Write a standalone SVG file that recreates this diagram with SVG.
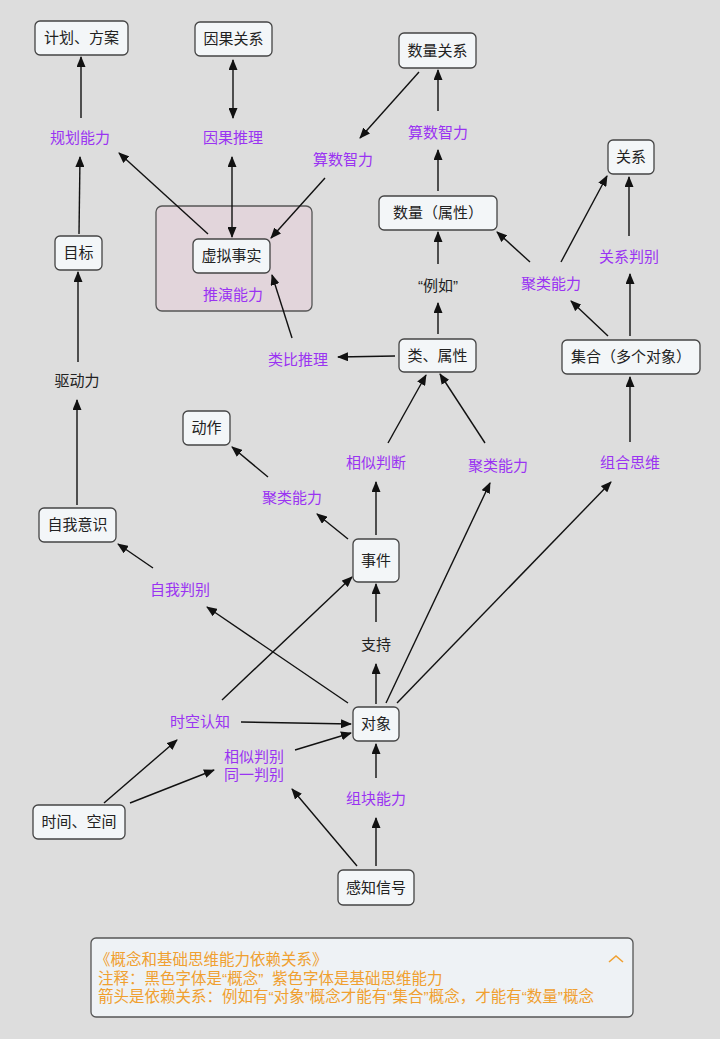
<svg xmlns="http://www.w3.org/2000/svg" width="720" height="1039" viewBox="0 0 720 1039">
<defs>
<marker id="ah" markerUnits="userSpaceOnUse" markerWidth="11" markerHeight="9" refX="10" refY="4.5" orient="auto-start-reverse" viewBox="0 0 11 9">
<path d="M0,0 L11,4.5 L0,9 z" fill="#111"/>
</marker>
<style>
.n rect{fill:#f3f6f8;stroke:#444;stroke-width:1.3}
text{font-family:"Liberation Sans","Noto Sans CJK SC",sans-serif;font-size:15px;text-anchor:middle}
.k{fill:#222}
.p{fill:#9a33f2}
.o{fill:#f0a030;text-anchor:start;font-size:15.5px}
#connectors line{stroke:#111;stroke-width:1.4;fill:none;marker-end:url(#ah)}
#connectors line.d{marker-start:url(#ah)}
</style>
</defs>
<rect width="720" height="1039" fill="#dddddd"/>

<g id="group-tuiyan">
<rect x="156" y="206" width="156" height="105" rx="6" fill="#e2d5db" stroke="#555" stroke-width="1.3"/>
<text class="p" x="233" y="300">推演能力</text>
</g>

<g id="connectors">
<line x1="81" y1="118" x2="81" y2="57"/>
<line x1="79" y1="234" x2="80" y2="157"/>
<line x1="78" y1="362" x2="78" y2="272"/>
<line x1="77" y1="505" x2="77" y2="400"/>
<line class="d" x1="233" y1="60" x2="233" y2="118"/>
<line class="d" x1="232" y1="157" x2="232" y2="237"/>
<line x1="208" y1="234" x2="119" y2="153"/>
<line x1="325" y1="178" x2="271" y2="238"/>
<line x1="419" y1="72" x2="360" y2="138"/>
<line x1="438" y1="111" x2="438" y2="70"/>
<line x1="438" y1="191" x2="438" y2="150"/>
<line x1="438" y1="264" x2="438" y2="232"/>
<line x1="438" y1="334" x2="438" y2="303"/>
<line x1="395" y1="356" x2="338" y2="357"/>
<line x1="292" y1="338" x2="272" y2="275"/>
<line x1="530" y1="262" x2="497" y2="232"/>
<line x1="561" y1="262" x2="607" y2="176"/>
<line x1="608" y1="336" x2="571" y2="301"/>
<line x1="630" y1="336" x2="630" y2="274"/>
<line x1="629" y1="236" x2="629" y2="177"/>
<line x1="388" y1="443" x2="426" y2="375"/>
<line x1="485" y1="443" x2="440" y2="374"/>
<line x1="630" y1="442" x2="630" y2="377"/>
<line x1="376" y1="535" x2="376" y2="482"/>
<line x1="348" y1="539" x2="317" y2="514"/>
<line x1="268" y1="477" x2="232" y2="447"/>
<line x1="153" y1="568" x2="118" y2="544"/>
<line x1="348" y1="703" x2="207" y2="607"/>
<line x1="222" y1="700" x2="352" y2="577"/>
<line x1="376" y1="622" x2="376" y2="584"/>
<line x1="376" y1="704" x2="376" y2="664"/>
<line x1="386" y1="703" x2="490" y2="483"/>
<line x1="397" y1="703" x2="611" y2="482"/>
<line x1="241" y1="722" x2="351" y2="724"/>
<line x1="295" y1="750" x2="351" y2="733"/>
<line x1="104" y1="803" x2="177" y2="740"/>
<line x1="130" y1="803" x2="214" y2="770"/>
<line x1="357" y1="866" x2="292" y2="789"/>
<line x1="376" y1="866" x2="376" y2="818"/>
<line x1="376" y1="778" x2="376" y2="744"/>
</g>

<g id="n-jihua" class="n"><rect x="35" y="21" width="93" height="34" rx="5"/><text class="k" x="81.5" y="43">计划、方案</text></g>
<g id="n-yinguoguanxi" class="n"><rect x="195" y="22" width="77" height="34" rx="5"/><text class="k" x="233.5" y="44">因果关系</text></g>
<g id="n-shuliangguanxi" class="n"><rect x="399" y="33" width="77" height="35" rx="5"/><text class="k" x="437.5" y="56">数量关系</text></g>
<g id="n-guanxi" class="n"><rect x="608" y="140" width="46" height="34" rx="5"/><text class="k" x="631" y="162">关系</text></g>
<g id="n-shuliang" class="n"><rect x="379" y="196" width="118" height="34" rx="5"/><text class="k" x="438" y="218">数量（属性）</text></g>
<g id="n-mubiao" class="n"><rect x="55" y="236" width="47" height="34" rx="5"/><text class="k" x="78.5" y="258">目标</text></g>
<g id="n-xunishishi" class="n"><rect x="193" y="239" width="77" height="34" rx="5"/><text class="k" x="231.5" y="261">虚拟事实</text></g>
<g id="n-lei" class="n"><rect x="399" y="339" width="77" height="33" rx="5"/><text class="k" x="437.5" y="361">类、属性</text></g>
<g id="n-jihe" class="n"><rect x="562" y="340" width="138" height="34" rx="5"/><text class="k" x="631" y="362">集合（多个对象）</text></g>
<g id="n-dongzuo" class="n"><rect x="183" y="411" width="47" height="34" rx="5"/><text class="k" x="206.5" y="433">动作</text></g>
<g id="n-ziwoyishi" class="n"><rect x="39" y="508" width="77" height="34" rx="5"/><text class="k" x="77.5" y="530">自我意识</text></g>
<g id="n-shijian" class="n"><rect x="353" y="539" width="46" height="43" rx="5"/><text class="k" x="376" y="566">事件</text></g>
<g id="n-duixiang" class="n"><rect x="353" y="707" width="46" height="34" rx="5"/><text class="k" x="376" y="729">对象</text></g>
<g id="n-shijiankongjian" class="n"><rect x="33" y="805" width="92" height="34" rx="5"/><text class="k" x="79" y="827">时间、空间</text></g>
<g id="n-ganzhi" class="n"><rect x="338" y="870" width="76" height="35" rx="5"/><text class="k" x="376" y="893">感知信号</text></g>

<g id="labels">
<text class="p" x="80" y="143">规划能力</text>
<text class="p" x="233" y="143">因果推理</text>
<text class="p" x="343" y="165">算数智力</text>
<text class="p" x="438" y="138">算数智力</text>
<text class="p" x="629" y="262">关系判别</text>
<text class="p" x="551" y="289">聚类能力</text>
<text class="k" x="438" y="291">“例如”</text>
<text class="p" x="298" y="365">类比推理</text>
<text class="k" x="77" y="386">驱动力</text>
<text class="p" x="376" y="468">相似判断</text>
<text class="p" x="498" y="471">聚类能力</text>
<text class="p" x="630" y="468">组合思维</text>
<text class="p" x="292" y="503">聚类能力</text>
<text class="p" x="180" y="595">自我判别</text>
<text class="k" x="376" y="650">支持</text>
<text class="p" x="200" y="727">时空认知</text>
<text class="p" x="254" y="762">相似判别<tspan x="254" dy="18">同一判别</tspan></text>
<text class="p" x="376" y="804">组块能力</text>
</g>

<g id="note">
<rect x="91" y="938" width="542" height="79" rx="5" fill="#eef2f5" stroke="#555" stroke-width="1.3"/>
<text class="o" x="95" y="965">《概念和基础思维能力依赖关系》<tspan x="98" dy="18.5">注释：黑色字体是“概念”&#160;&#160;紫色字体是基础思维能力</tspan><tspan x="98" dy="18.5">箭头是依赖关系：例如有“对象”概念才能有“集合”概念，才能有“数量”概念</tspan></text>
<polyline points="609,962 616,956 623,962" fill="none" stroke="#f0a030" stroke-width="1.6"/>
</g>
</svg>
